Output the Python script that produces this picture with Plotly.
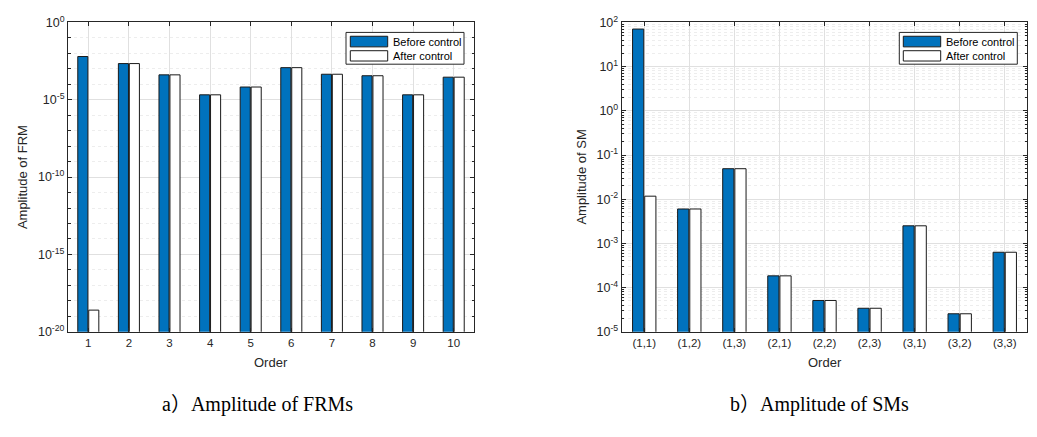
import plotly.graph_objects as go
import numpy as np

# ---------------- data ----------------
frm_orders = ["1", "2", "3", "4", "5", "6", "7", "8", "9", "10"]
frm_before = [6.3e-3, 2.2e-3, 4.1e-4, 2.1e-5, 6.7e-5, 1.2e-3, 4.5e-4, 3.6e-4, 2.1e-5, 2.9e-4]
frm_after = [2.5e-19, 2.2e-3, 4.1e-4, 2.1e-5, 6.7e-5, 1.2e-3, 4.5e-4, 3.6e-4, 2.1e-5, 2.9e-4]

sm_orders = ["(1,1)", "(1,2)", "(1,3)", "(2,1)", "(2,2)", "(2,3)", "(3,1)", "(3,2)", "(3,3)"]
sm_before = [71.0, 6.0e-3, 4.9e-2, 1.84e-4, 5.1e-5, 3.4e-5, 2.5e-3, 2.55e-5, 6.3e-4]
sm_after = [1.17e-2, 6.0e-3, 4.9e-2, 1.84e-4, 5.1e-5, 3.4e-5, 2.5e-3, 2.55e-5, 6.3e-4]

frm_tick_exp = [0, -5, -10, -15, -20]
sm_tick_exp = [2, 1, 0, -1, -2, -3, -4, -5]

series_names = ["Before control", "After control"]
captions = ["a）Amplitude of FRMs", "b）Amplitude of SMs"]
ylabels = ["Amplitude of FRM", "Amplitude of SM"]
xlabel = "Order"

# ---------------- style ----------------
W, H = 1037, 437
BLUE = "#0072BD"
EDGE = "#1a1a1a"
AXC = "#262626"
GRID = "#e0e0e0"
MINOR = "#ededed"
SANS = "Arial, Liberation Sans, sans-serif"
SERIF = "Times New Roman, Liberation Serif, Noto Sans CJK SC, serif"

def px(x):
    return x / W

def py(y):
    return 1 - y / H

dom1 = [px(68), px(474)]
dom2 = [px(621.7), px(1027.3)]
ydom = [py(335), py(14)]

fig = go.Figure()

fig.add_trace(go.Bar(x=frm_orders, y=frm_before, name=series_names[0],
                     marker=dict(color=BLUE, line=dict(color=EDGE, width=1)),
                     xaxis="x", yaxis="y", showlegend=False))
fig.add_trace(go.Bar(x=frm_orders, y=frm_after, name=series_names[1],
                     marker=dict(color="white", line=dict(color=EDGE, width=1)),
                     xaxis="x", yaxis="y", showlegend=False))
fig.add_trace(go.Bar(x=sm_orders, y=sm_before, name=series_names[0],
                     marker=dict(color=BLUE, line=dict(color=EDGE, width=1)),
                     xaxis="x2", yaxis="y2", showlegend=False))
fig.add_trace(go.Bar(x=sm_orders, y=sm_after, name=series_names[1],
                     marker=dict(color="white", line=dict(color=EDGE, width=1)),
                     xaxis="x2", yaxis="y2", showlegend=False))

xcommon = dict(type="category", showline=True, linecolor=AXC, linewidth=1,
               mirror="allticks", ticks="inside", ticklen=4, tickcolor=AXC,
               showgrid=True, gridcolor=GRID, gridwidth=1,
               tickfont=dict(family=SANS, size=11.5, color=AXC), zeroline=False)

frm_minor = [10.0 ** e for e in range(-19, 0) if e % 5 != 0]
sm_minor = [m * 10.0 ** e for e in range(-5, 2) for m in range(2, 10)]

ycommon = dict(type="log", showline=True, linecolor=AXC, linewidth=1,
               mirror="allticks", ticks="inside", ticklen=4, tickcolor=AXC,
               showgrid=True, gridcolor=GRID, gridwidth=1, zeroline=False,
               tickfont=dict(family=SANS, size=12.5, color=AXC))

fig.update_layout(
    width=W, height=H, margin=dict(l=0, r=0, t=0, b=0),
    paper_bgcolor="white", plot_bgcolor="white",
    barmode="group", bargap=0.46, bargroupgap=0.08,
    showlegend=False,
    xaxis=dict(xcommon, domain=dom1, anchor="y", range=[-0.5, 9.5]),
    yaxis=dict(ycommon, domain=ydom, anchor="x", range=[-20, 0],
               tickvals=[10.0 ** e for e in frm_tick_exp],
               ticktext=["10<sup>%d</sup>" % e for e in frm_tick_exp],
               minor=dict(tickvals=frm_minor, ticks="inside", ticklen=2.5,
                          tickcolor=AXC, showgrid=True, gridcolor=MINOR,
                          griddash="dot", gridwidth=1)),
    xaxis2=dict(xcommon, domain=dom2, anchor="y2", range=[-0.5, 8.5]),
    yaxis2=dict(ycommon, domain=ydom, anchor="x2", range=[-5, 2],
                tickvals=[10.0 ** e for e in sm_tick_exp],
                ticktext=["10<sup>%d</sup>" % e for e in sm_tick_exp],
                minor=dict(tickvals=sm_minor, ticks="inside", ticklen=2.5,
                           tickcolor=AXC, showgrid=True, gridcolor=MINOR,
                           griddash="dot", gridwidth=1)),
)

annotations = []
shapes = []

# axis titles and captions
for i, (dom, ylx, capx) in enumerate([(dom1, 22, 257), (dom2, 581.5, 819)]):
    annotations.append(dict(xref="paper", yref="paper", x=(dom[0] + dom[1]) / 2, y=py(367),
                            text=xlabel, showarrow=False, xanchor="center", yanchor="middle",
                            font=dict(family=SANS, size=13, color=AXC)))
    annotations.append(dict(xref="paper", yref="paper", x=px(ylx), y=(ydom[0] + ydom[1]) / 2,
                            text=ylabels[i], showarrow=False, textangle=-90,
                            xanchor="center", yanchor="middle",
                            font=dict(family=SANS, size=13, color=AXC)))
    annotations.append(dict(xref="paper", yref="paper", x=px(capx),
                            y=py(411), text=captions[i], showarrow=False,
                            xanchor="center", yanchor="middle",
                            font=dict(family=SERIF, size=20, color="black")))

# manual legends
for lx0, lx1, px0, px1, tx in [(346, 464, 350.3, 387.7, 390.7), (899.3, 1017.3, 903.3, 940.7, 944)]:
    shapes.append(dict(type="rect", xref="paper", yref="paper",
                       x0=px(lx0), x1=px(lx1), y0=py(57.3), y1=py(24.3),
                       fillcolor="white", line=dict(color=AXC, width=1), layer="above"))
    for j, (yy0, yy1, col) in enumerate([(28.3, 39.3, BLUE), (43.3, 54, "white")]):
        shapes.append(dict(type="rect", xref="paper", yref="paper",
                           x0=px(px0), x1=px(px1), y0=py(yy1), y1=py(yy0),
                           fillcolor=col, line=dict(color=EDGE, width=1), layer="above"))
        annotations.append(dict(xref="paper", yref="paper", x=px(tx), y=py((yy0 + yy1) / 2),
                                text=series_names[j], showarrow=False,
                                xanchor="left", yanchor="middle",
                                font=dict(family=SANS, size=11, color="black")))

fig.update_layout(annotations=annotations, shapes=shapes)
fig.write_html("out.html")
